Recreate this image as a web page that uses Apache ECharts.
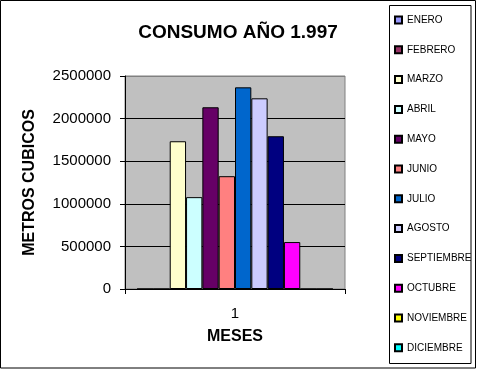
<!DOCTYPE html>
<html>
<head>
<meta charset="utf-8">
<script src="https://cdn.jsdelivr.net/npm/echarts@6/dist/echarts.min.js"></script>
<style>html,body{margin:0;padding:0;background:#fff;}#c{width:477px;height:370px;}</style>
</head>
<body>
<div id="c"></div>
<script>
var categories = ['1'];
var seriesNames = ['ENERO','FEBRERO','MARZO','ABRIL','MAYO','JUNIO','JULIO','AGOSTO','SEPTIEMBRE','OCTUBRE','NOVIEMBRE','DICIEMBRE'];
var seriesValues = [0, 0, 1734000, 1078000, 2133000, 1324000, 2367000, 2238000, 1793000, 551000, 0, 0];
var seriesColors = ['#9999FF','#993366','#FFFFCC','#CCFFFF','#660066','#FF8080','#0066CC','#CCCCFF','#000080','#FF00FF','#FFFF00','#00FFFF'];
var yTicks = [0, 500000, 1000000, 1500000, 2000000, 2500000];

var FONT = 'Arial, "Liberation Sans", sans-serif';
var chart = echarts.init(document.getElementById('c'), null, {renderer: 'canvas'});
var series = seriesNames.map(function (n, i) {
  return {
    name: n,
    type: 'bar',
    data: [seriesValues[i]],
    barGap: '0%',
    barCategoryGap: '11%',
    itemStyle: {color: seriesColors[i], borderColor: '#000', borderWidth: 1},
    emphasis: {disabled: true},
    animation: false
  };
});
chart.setOption({
  animation: false,
  backgroundColor: '#fff',
  title: {
    text: 'CONSUMO AÑO 1.997',
    left: 233, top: 18, textAlign: 'center',
    textStyle: {fontFamily: FONT, fontSize: 19, fontWeight: 'bold', color: '#000'}
  },
  legend: {
    orient: 'vertical',
    left: 394, top: 14,
    padding: 0,
    itemWidth: 7, itemHeight: 7,
    itemGap: 17.8,
    icon: 'rect',
    selectedMode: false,
    data: seriesNames,
    textStyle: {fontFamily: FONT, fontSize: 10, color: '#000', lineHeight: 12}
  },
  graphic: [
    {type: 'rect', shape: {x: 0.5, y: 0.5, width: 475, height: 367.5}, style: {fill: 'none', stroke: '#000', lineWidth: 1}, silent: true},
    {type: 'rect', shape: {x: 389.5, y: 5.5, width: 81.5, height: 358}, style: {fill: 'none', stroke: '#000', lineWidth: 1}, silent: true}
  ],
  grid: {
    left: 125, right: 132, top: 76, bottom: 81,
    show: true, backgroundColor: '#C0C0C0', borderColor: '#808080', borderWidth: 1
  },
  xAxis: {
    type: 'category',
    data: categories,
    name: 'MESES',
    nameLocation: 'middle',
    nameGap: 40,
    nameTextStyle: {fontFamily: FONT, fontSize: 16, fontWeight: 'bold', color: '#000'},
    axisLine: {lineStyle: {color: '#000', width: 1}},
    axisTick: {show: true, length: 5, lineStyle: {color: '#000'}},
    axisLabel: {fontFamily: FONT, fontSize: 15, color: '#000', margin: 17},
    splitLine: {show: false}
  },
  yAxis: {
    type: 'value',
    min: yTicks[0], max: yTicks[yTicks.length - 1], interval: yTicks[1] - yTicks[0],
    name: 'METROS CUBICOS',
    nameLocation: 'middle',
    nameGap: 87,
    nameTextStyle: {fontFamily: FONT, fontSize: 16, fontWeight: 'bold', color: '#000'},
    axisLine: {show: true, lineStyle: {color: '#000', width: 1}},
    axisTick: {show: true, length: 5, lineStyle: {color: '#000'}},
    axisLabel: {fontFamily: FONT, fontSize: 15, color: '#000', margin: 14, formatter: function (v) { return String(v); }},
    splitLine: {show: true, lineStyle: {color: ['#000','#000','#000','#000','#000','#808080'], width: 1}}
  },
  series: series
});
</script>
</body>
</html>
